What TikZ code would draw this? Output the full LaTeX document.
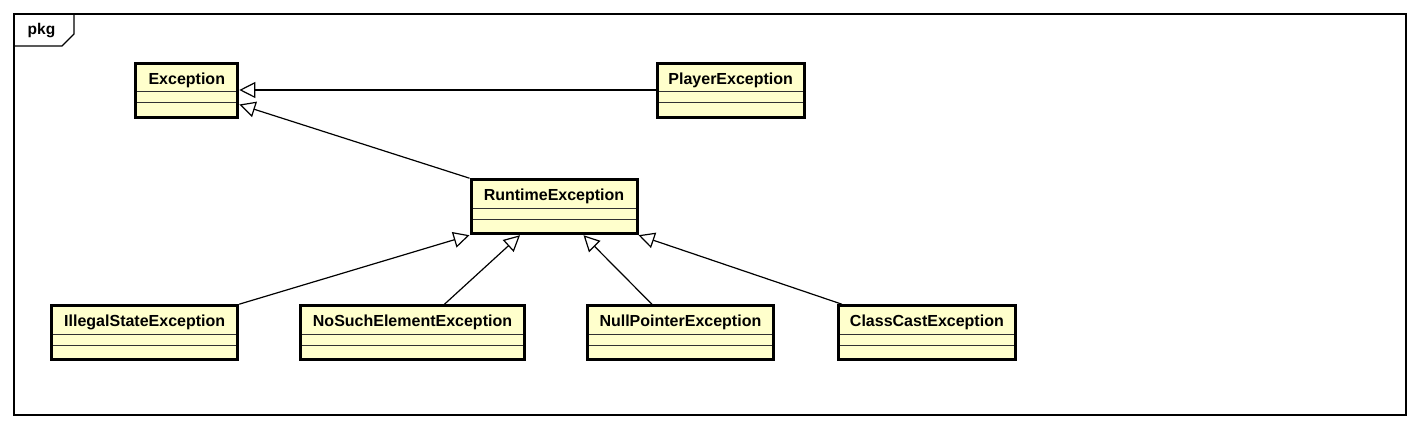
\documentclass[tikz,border=0pt]{standalone}
\usepackage{fontspec}
\setmainfont{Liberation Sans}
\usepackage{tikz}
\usetikzlibrary{arrows.meta, positioning, calc}
\definecolor{cClassFill}{RGB}{255,255,204}
\definecolor{cSep}{RGB}{50,50,50}
\tikzset{
	umlclass/.style={rectangle, draw=black, line width=3pt, fill=cClassFill, anchor=north, minimum height=54pt, inner sep=0pt, text height=11pt, text depth=22.6pt, font=\fontsize{16}{18}\selectfont\bfseries,
		path picture={
			\draw[line width=1pt, draw=cSep] ([yshift=-28.5pt]path picture bounding box.north west) -- ([yshift=-28.5pt]path picture bounding box.north east);
			\draw[line width=1pt, draw=cSep] ([yshift=-39.5pt]path picture bounding box.north west) -- ([yshift=-39.5pt]path picture bounding box.north east);
		}},
	genarrow/.style={-{Triangle[open, length=16pt, width=16pt]}, line width=1.2pt},
	% package frame
	pkgframe/.style={line width=1.2pt},
	pkgname/.style={font=\fontsize{15.5}{18}\selectfont\bfseries, inner sep=0pt, anchor=base},
}

\begin{document}
\begin{tikzpicture}[x=1pt, y=-1pt]
	\useasboundingbox (0,0) rectangle (1420,429);
	\draw[pkgframe] (14,14) rectangle (1406,415);
	\draw[pkgframe] (14,46) -- (62,46) -- (74,34) -- (74,14);
	\node[pkgname] (pkglabel) at (41.5,34.5) {pkg};

	\node[umlclass, minimum width=102pt] (exc) at (186.8,61.5) {Exception};
	\node[umlclass, minimum width=147pt] (player) at (730.7,61.5) {PlayerException};
	\node[umlclass, minimum width=166pt] (runtime) at (554,178.2) {RuntimeException};
	\node[umlclass, minimum width=186pt] (illegal) at (144.7,304.2) {IllegalStateException};
	\node[umlclass, minimum width=224pt] (nosuch) at (412.5,304.2) {NoSuchElementException};
	\node[umlclass, minimum width=186pt] (nullptr) at (680.4,304.2) {NullPointerException};
	\node[umlclass, minimum width=177pt] (classcast) at (926.9,304.2) {ClassCastException};

	\draw[genarrow] (player) -- (exc);
	\draw[genarrow] (runtime.north west) -- ([yshift=-14.5pt]exc.east);
	\draw[genarrow] (illegal.north east) -- (runtime.south west);
	\draw[genarrow] ([xshift=32pt]nosuch.north) -- ([xshift=-34pt]runtime.south);
	\draw[genarrow] ([xshift=-28.5pt]nullptr.north) -- ([xshift=29.5pt]runtime.south);
	\draw[genarrow] ([xshift=5pt]classcast.north west) -- (runtime.south east);
\end{tikzpicture}
\end{document}
